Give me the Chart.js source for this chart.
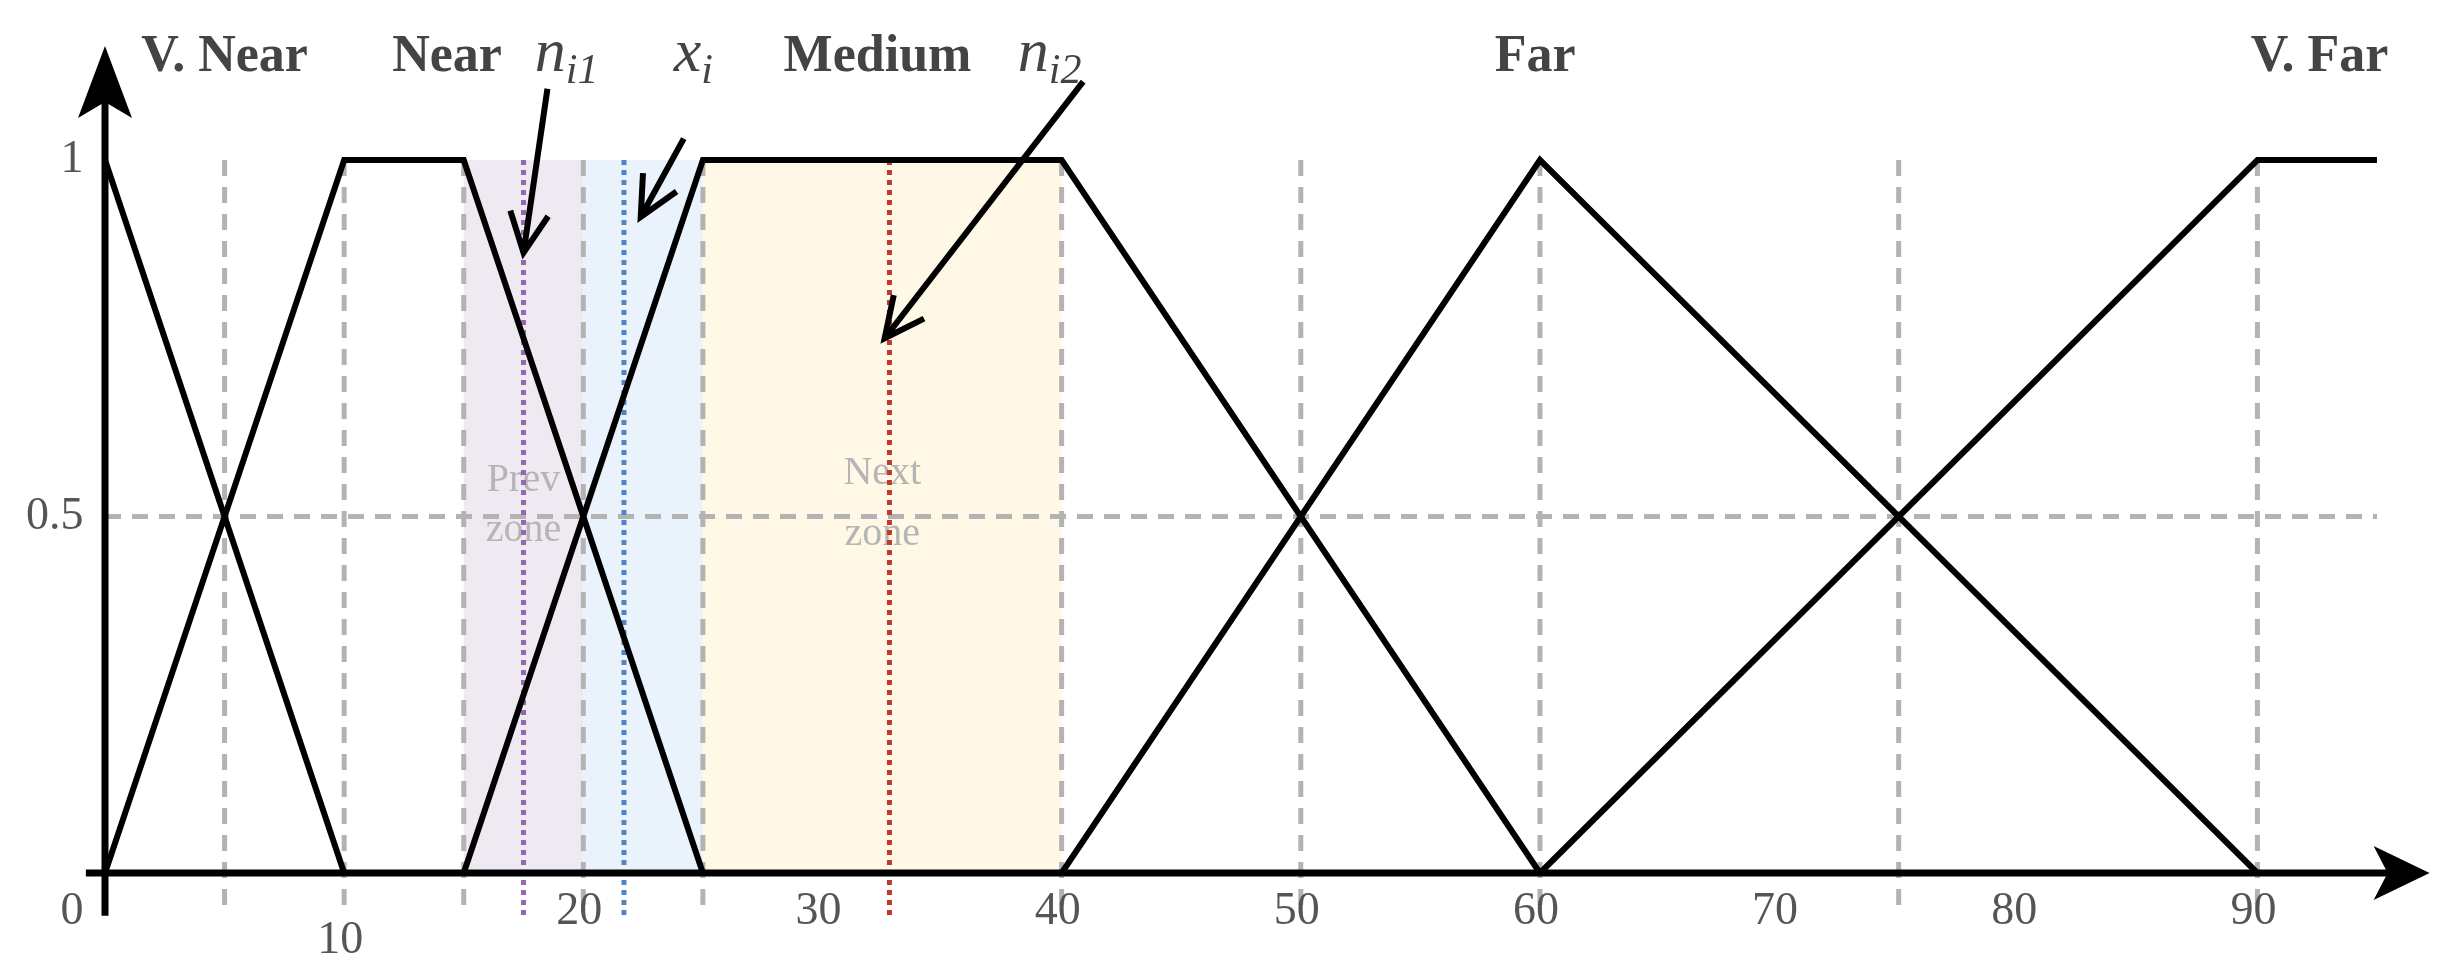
<!DOCTYPE html>
<html>
<head>
<meta charset="utf-8">
<script src="https://cdn.jsdelivr.net/npm/chart.js@4"></script>
<style>
  html, body { margin: 0; padding: 0; background: #fff; }
  #wrap { width: 2454px; height: 967px; }
</style>
</head>
<body>
<div id="wrap"><canvas id="fuzzyChart"></canvas></div>
<script>
/* Fuzzy distance membership functions */

const xTicks = [0, 10, 20, 30, 40, 50, 60, 70, 80, 90];
const yTicks = [0, 0.5, 1];

const vNearX = [0, 10],          vNearY = [1, 0];
const nearX = [0, 10, 15, 25],   nearY = [0, 1, 1, 0];
const mediumX = [15, 25, 40, 60], mediumY = [0, 1, 1, 0];
const farX = [40, 60, 90],       farY = [0, 1, 0];
const vFarX = [60, 90, 95],      vFarY = [0, 1, 1];

const guideX = [5, 10, 15, 20, 25, 40, 50, 60, 75, 90];
const zones = [
    { from: 15, to: 20, color: "#efe9f2" },
    { from: 20, to: 25, color: "#eaf2fc" },
    { from: 25, to: 40, color: "#fff8e6" }
];
const markers = [
    { x: 17.5, color: "#9467b0" },   // n_i1
    { x: 21.7, color: "#4f84c8" },   // x_i
    { x: 32.8, color: "#c0392b" }    // n_i2
];
const arrows = [
    [18.5, 1.10, 17.5, 0.87],
    [24.2, 1.03, 22.4, 0.92],
    [40.9, 1.11, 32.6, 0.75]
];

function toPoints(xs, ys) {
    return xs.map(function (x, i) { return { x: x, y: ys[i] }; });
}

function lineSet(xs, ys) {
    return {
        data: toPoints(xs, ys),
        showLine: true,
        borderColor: "#000",
        borderWidth: 6,
        pointRadius: 0,
        clip: false
    };
}

const fuzzyPlugin = {
    id: "fuzzy",
    beforeDatasetsDraw: function (chart) {
        const c = chart.ctx, xs = chart.scales.x, ys = chart.scales.y;
        const X = function (v) { return xs.getPixelForValue(v); };
        const Y = function (v) { return ys.getPixelForValue(v); };
        c.save();
        zones.forEach(function (z) {
            c.fillStyle = z.color;
            c.fillRect(X(z.from), Y(1), X(z.to) - X(z.from), Y(0) - Y(1));
        });
        // zone captions
        c.fillStyle = "#b5b5b5";
        c.font = "40px 'Liberation Serif'";
        c.textAlign = "center";
        c.textBaseline = "middle";
        c.fillText("Prev", X(17.5), Y(0.55));
        c.fillText("zone", X(17.5), Y(0.48));
        c.fillText("Next", X(32.5), Y(0.56));
        c.fillText("zone", X(32.5), Y(0.475));
        // dashed guides
        c.strokeStyle = "#b3b3b3";
        c.lineWidth = 5;
        c.setLineDash([16, 11]);
        guideX.forEach(function (g) {
            c.beginPath();
            c.moveTo(X(g), Y(1));
            c.lineTo(X(g), Y(-0.06));
            c.stroke();
        });
        c.beginPath();
        c.moveTo(X(0), Y(0.5));
        c.lineTo(X(95), Y(0.5));
        c.stroke();
        // dotted markers
        c.lineWidth = 5;
        c.setLineDash([5, 5]);
        markers.forEach(function (m) {
            c.strokeStyle = m.color;
            c.beginPath();
            c.moveTo(X(m.x), Y(1));
            c.lineTo(X(m.x), Y(-0.06));
            c.stroke();
        });
        c.restore();
    },
    afterDatasetsDraw: function (chart) {
        const c = chart.ctx, xs = chart.scales.x, ys = chart.scales.y;
        const X = function (v) { return xs.getPixelForValue(v); };
        const Y = function (v) { return ys.getPixelForValue(v); };
        c.save();
        c.strokeStyle = "#000";
        c.fillStyle = "#000";
        c.lineWidth = 7;
        // axes
        c.beginPath();
        c.moveTo(X(-0.8), Y(0));
        c.lineTo(X(95.5), Y(0));
        c.moveTo(X(0), Y(-0.06));
        c.lineTo(X(0), Y(1.12));
        c.stroke();
        // axis arrow heads
        const xe = X(97.2), y0 = Y(0);
        c.beginPath();
        c.moveTo(xe, y0);
        c.lineTo(xe - 56, y0 - 27);
        c.lineTo(xe - 42, y0);
        c.lineTo(xe - 56, y0 + 27);
        c.closePath();
        c.fill();
        const x0 = X(0), ye = Y(1.16);
        c.beginPath();
        c.moveTo(x0, ye);
        c.lineTo(x0 - 27, ye + 72);
        c.lineTo(x0, ye + 56);
        c.lineTo(x0 + 27, ye + 72);
        c.closePath();
        c.fill();
        // annotation arrows
        c.lineWidth = 6;
        arrows.forEach(function (a) {
            const sx = X(a[0]), sy = Y(a[1]), ex = X(a[2]), ey = Y(a[3]);
            const ang = Math.atan2(ey - sy, ex - sx);
            c.beginPath();
            c.moveTo(sx, sy);
            c.lineTo(ex, ey);
            c.moveTo(ex - 44 * Math.cos(ang - 0.45), ey - 44 * Math.sin(ang - 0.45));
            c.lineTo(ex, ey);
            c.lineTo(ex - 44 * Math.cos(ang + 0.45), ey - 44 * Math.sin(ang + 0.45));
            c.stroke();
        });
        // tick labels
        c.fillStyle = "#555";
        c.font = "46px 'Liberation Serif'";
        c.textAlign = "center";
        c.textBaseline = "middle";
        xTicks.forEach(function (t) {
            if (t === 0) return;
            const yy = t === 10 ? Y(-0.095) : Y(-0.055);
            c.fillText(String(t), X(t) - 4, yy);
        });
        c.textAlign = "right";
        yTicks.forEach(function (t) {
            const yy = t === 0 ? Y(-0.055) : Y(t);
            c.fillText(String(t), X(-0.9), yy);
        });
        // set names
        c.fillStyle = "#444";
        c.font = "bold 52px 'Liberation Serif'";
        c.textAlign = "center";
        c.textBaseline = "alphabetic";
        const ly = Y(1.125);
        c.fillText("V. Near", X(5.0), ly);
        c.fillText("Near", X(14.3), ly);
        c.fillText("Medium", X(32.3), ly);
        c.fillText("Far", X(59.8), ly);
        c.fillText("V. Far", X(92.6), ly);
        // math labels
        function mathLabel(main, sub, cx) {
            c.font = "italic 62px 'Liberation Serif'";
            const w1 = c.measureText(main).width;
            c.font = "italic 42px 'Liberation Serif'";
            const w2 = c.measureText(sub).width;
            const left = X(cx) - (w1 + w2) / 2;
            c.textAlign = "left";
            c.font = "italic 62px 'Liberation Serif'";
            c.fillText(main, left, ly);
            c.font = "italic 42px 'Liberation Serif'";
            c.fillText(sub, left + w1, ly + 12);
        }
        mathLabel("n", "i1", 19.3);
        mathLabel("x", "i", 24.6);
        mathLabel("n", "i2", 39.5);
        c.restore();
    }
};

new Chart(document.getElementById("fuzzyChart"), {
    type: "scatter",
    data: {
        datasets: [
            lineSet(vNearX, vNearY),
            lineSet(nearX, nearY),
            lineSet(mediumX, mediumY),
            lineSet(farX, farY),
            lineSet(vFarX, vFarY)
        ]
    },
    options: {
        responsive: true,
        maintainAspectRatio: false,
        animation: false,
        layout: { padding: { left: 105, right: 77, top: 160, bottom: 94 } },
        scales: {
            x: { type: "linear", min: 0, max: 95, display: false },
            y: { type: "linear", min: 0, max: 1, display: false }
        },
        plugins: {
            legend: { display: false },
            tooltip: { enabled: false }
        }
    },
    plugins: [fuzzyPlugin]
});
</script>
</body>
</html>
